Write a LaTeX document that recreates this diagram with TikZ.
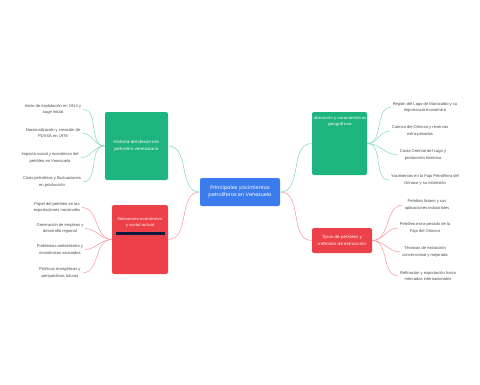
\documentclass[tikz,border=0pt]{standalone}
\usepackage{fontspec}
\setmainfont{Liberation Sans}
\newfontfamily\titlefont{Poppins}
\usetikzlibrary{positioning}
\definecolor{cgreen}{HTML}{1DB47F}
\definecolor{cred}{HTML}{EC4148}
\definecolor{cblue}{HTML}{3A7CEC}
\definecolor{cnavy}{HTML}{0E1B3D}
\definecolor{ctext}{HTML}{4A4A4A}
\tikzset{
  every picture/.style={line width=0.6pt},
  box/.style={fill=#1, rounded corners=2pt, text=white, align=center, inner sep=2pt, font=\titlefont\fontsize{4.2}{6.3}\selectfont},
  box/.default=cblue,
  title/.style={text=white, align=center, inner sep=0pt, font=\titlefont\fontsize{3.9}{6}\selectfont},
  leaf/.style={font=\fontsize{4.1}{6.2}\selectfont, text=ctext, align=center, inner sep=1.5pt},
  link/.style={draw=#1!55, line width=0.5pt},
}

\begin{document}
\begin{tikzpicture}[x=1pt, y=-1pt]
  \useasboundingbox (0,0) rectangle (480,384);
  % main boxes
  \node[box=cblue, minimum width=80pt, minimum height=28pt, font=\titlefont\fontsize{5}{7.2}\selectfont] (main) at (240,192) {Principales yacimientos\\petrolíferos en Venezuela};
  \node[box=cgreen, minimum width=63pt, minimum height=68pt] (hist) at (136.5,146) {Historia del desarrollo\\petrolero venezolano};
  \node[box=cred, minimum width=56pt, minimum height=69pt] (rel) at (140,239.5) {};
  \node[title] (relt) at (140,222) {Relevancia económica\\y social actual};
  \node[fill=cnavy, minimum width=49pt, minimum height=3.5pt, inner sep=0pt] (relbar) at (140.5,233.5) {};
  \node[box=cgreen, minimum width=55pt, minimum height=63pt] (geo) at (339.5,143.5) {};
  \node[title] (geot) at (340,121.5) {Ubicación y características\\geográficas};
  \node[box=cred, minimum width=60pt, minimum height=25pt] (tipos) at (342,240.5) {Tipos de petróleo y\\métodos de extracción};
  % leaves, left
  \node[leaf] (h1) at (53,109.5) {Inicio de explotación en 1914 y\\auge inicial};
  \node[leaf] (h2) at (53,133) {Nacionalización y creación de\\PDVSA en 1976};
  \node[leaf] (h3) at (50,158) {Impacto social y económico del\\petróleo en Venezuela};
  \node[leaf] (h4) at (52,182) {Crisis petroleras y fluctuaciones\\en producción};
  \node[leaf] (r1) at (57,207.5) {Papel del petróleo en las\\exportaciones nacionales};
  \node[leaf] (r2) at (60,228.5) {Generación de empleos y\\desarrollo regional};
  \node[leaf] (r3) at (60,249.5) {Problemas ambientales y\\económicos asociados};
  \node[leaf] (r4) at (60,273) {Políticas energéticas y\\perspectivas futuras};
  % leaves, right
  \node[leaf] (g1) at (425,107.5) {Región del Lago de Maracaibo y su\\importancia económica};
  \node[leaf] (g2) at (420,131) {Cuenca del Orinoco y reservas\\extra-pesadas};
  \node[leaf] (g3) at (423,155) {Costa Oriental del Lago y\\producción histórica};
  \node[leaf] (g4) at (425,180) {Yacimientos en la Faja Petrolífera del\\Orinoco y su extensión};
  \node[leaf] (t1) at (427,205) {Petróleo liviano y sus\\aplicaciones industriales};
  \node[leaf] (t2) at (425,228) {Petróleo extra-pesado de la\\Faja del Orinoco};
  \node[leaf] (t3) at (425,252) {Técnicas de extracción\\convencional y mejorada};
  \node[leaf] (t4) at (428,276) {Refinación y exportación hacia\\mercados internacionales};
  % connectors
  \draw[link=cgreen] (main.west) to[out=180, in=0] (hist.east);
  \draw[link=cred] (main.west) to[out=180, in=0] (rel.east);
  \draw[link=cgreen] (main.east) to[out=0, in=180] (geo.west);
  \draw[link=cred] (main.east) to[out=0, in=180] (tipos.west);
  \foreach \a in {h1, h2, h3, h4} \draw[link=cgreen] (hist.west) to[out=180, in=0] (\a.east);
  \foreach \a in {r1, r2, r3, r4} \draw[link=cred] (rel.west) to[out=180, in=0] (\a.east);
  \foreach \a in {g1, g2, g3, g4} \draw[link=cgreen] (geo.east) to[out=0, in=180] (\a.west);
  \foreach \a in {t1, t2, t3, t4} \draw[link=cred] (tipos.east) to[out=0, in=180] (\a.west);
\end{tikzpicture}
\end{document}
